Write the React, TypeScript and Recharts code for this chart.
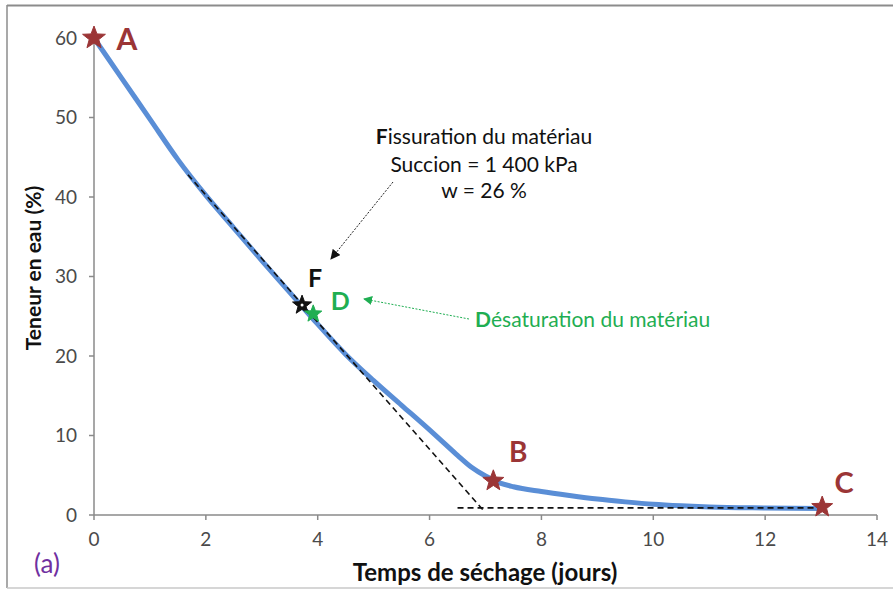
import React from "react";
import { ComposedChart, Line, Scatter, XAxis, YAxis } from "recharts";

// ---- data ----
const dryingDays = [0, 0.5, 1, 1.5, 2, 2.5, 3, 3.5, 4, 4.5, 5, 5.5, 6, 6.25, 6.5, 6.75, 7, 7.25, 7.5, 8, 8.5, 9, 9.5, 10, 10.5, 11, 12, 13];
const waterContent = [60, 54.9, 49.8, 44.7, 40.2, 36.1, 32.0, 28.0, 24.0, 20.2, 16.9, 13.8, 10.7, 9.1, 7.5, 6.0, 4.9, 4.05, 3.55, 2.95, 2.45, 2.0, 1.65, 1.35, 1.15, 1.0, 0.88, 0.82];

const tangentDays = [1.68, 6.96];
const tangentWater = [42.8, 0.6];
const plateauDays = [6.5, 13];
const plateauWater = [0.9, 0.9];

const markerNames = ["A", "B", "C", "F", "D"];
const markerDays = [0, 7.14, 13.02, 3.72, 3.92];
const markerWater = [60, 4.3, 1.0, 26.4, 25.3];

const xTicks = [0, 2, 4, 6, 8, 10, 12, 14];
const yTicks = [0, 10, 20, 30, 40, 50, 60];

// ---- build series ----
const curve = dryingDays.map((x, i) => ({ x, y: waterContent[i] }));
const tangent = tangentDays.map((x, i) => ({ x, y: tangentWater[i] }));
const plateau = plateauDays.map((x, i) => ({ x, y: plateauWater[i] }));
const markers = markerNames.map((name, i) => ({ name, x: markerDays[i], y: markerWater[i] }));

const RED = "#9b3536";
const GREEN = "#1fae52";
const markerStyle: Record<string, any> = {
  A: { color: RED, r: 12, labelColor: RED, dx: 33, dy: 0, fs: 30 },
  B: { color: RED, r: 11, labelColor: RED, dx: 25, dy: -30, fs: 28 },
  C: { color: RED, r: 11, labelColor: RED, dx: 22, dy: -26, fs: 29 },
  F: { color: "#111", r: 10, labelColor: "#111", dx: 13, dy: -28, fs: 25, dot: true },
  D: { color: GREEN, r: 9, labelColor: GREEN, dx: 27, dy: -14, fs: 25 },
};

const FONT = "Lato, 'Open Sans', sans-serif";

function starPoints(cx: number, cy: number, R: number) {
  const r = R * 0.42;
  const pts: string[] = [];
  for (let i = 0; i < 10; i++) {
    const ang = -Math.PI / 2 + (i * Math.PI) / 5;
    const rad = i % 2 === 0 ? R : r;
    pts.push(`${cx + rad * Math.cos(ang)},${cy + rad * Math.sin(ang)}`);
  }
  return pts.join(" ");
}

const StarMark = (props: any) => {
  const { cx, cy, payload } = props;
  if (cx == null || cy == null) return null;
  const s = markerStyle[payload.name];
  return (
    <g>
      <polygon points={starPoints(cx, cy, s.r)} fill={s.color} stroke={s.color} strokeWidth={1} strokeLinejoin="round" />
      {s.dot && <circle cx={cx} cy={cy} r={1.5} fill="#fff" />}
      <text
        x={cx + s.dx}
        y={cy + s.dy}
        textAnchor="middle"
        dominantBaseline="central"
        fontFamily={FONT}
        fontWeight="bold"
        fontSize={s.fs}
        fill={s.labelColor}
      >
        {payload.name}
      </text>
    </g>
  );
};

export default function App() {
  return (
    <div style={{ position: "absolute", left: 0, top: 0, width: 893, height: 590, background: "#fff" }}>
      <ComposedChart
        width={893}
        height={590}
        margin={{ top: 38, right: 16, bottom: 45, left: 0 }}
        style={{ fontFamily: FONT }}
      >
        <XAxis
          type="number"
          dataKey="x"
          domain={[0, 14]}
          ticks={xTicks}
          height={30}
          tickSize={5}
          tickMargin={13}
          stroke="#8a8a8a"
          strokeWidth={1.5}
          tick={{ fill: "#4a4a4a", fontSize: 19, fontFamily: FONT }}
        />
        <YAxis
          type="number"
          dataKey="y"
          domain={[0, 60]}
          ticks={yTicks}
          width={94}
          tickSize={5}
          tickMargin={12}
          stroke="#8a8a8a"
          strokeWidth={1.5}
          tick={{ fill: "#4a4a4a", fontSize: 19, fontFamily: FONT }}
        />
        <Line
          data={curve}
          dataKey="y"
          type="monotone"
          stroke="#5a8ed6"
          strokeWidth={5}
          dot={false}
          activeDot={false}
          isAnimationActive={false}
        />
        <Line
          data={tangent}
          dataKey="y"
          type="linear"
          stroke="#111"
          strokeWidth={1.6}
          strokeDasharray="6 4"
          dot={false}
          activeDot={false}
          isAnimationActive={false}
        />
        <Line
          data={plateau}
          dataKey="y"
          type="linear"
          stroke="#111"
          strokeWidth={1.6}
          strokeDasharray="6 4"
          dot={false}
          activeDot={false}
          isAnimationActive={false}
        />
        <Scatter data={markers} dataKey="y" shape={StarMark} isAnimationActive={false} />
      </ComposedChart>
      <svg
        width={893}
        height={590}
        style={{ position: "absolute", left: 0, top: 0, pointerEvents: "none" }}
      >
        <defs>
          <marker id="arrBlack" viewBox="0 0 10 10" refX="9" refY="5" markerWidth="10" markerHeight="10" orient="auto" markerUnits="userSpaceOnUse">
            <path d="M0,0 L10,5 L0,10 z" fill="#111" />
          </marker>
          <marker id="arrGreen" viewBox="0 0 10 10" refX="9" refY="5" markerWidth="9" markerHeight="9" orient="auto" markerUnits="userSpaceOnUse">
            <path d="M0,0 L10,5 L0,10 z" fill={GREEN} />
          </marker>
        </defs>
        <line x1={7} y1={5.5} x2={893} y2={5.5} stroke="#8c8c8c" strokeWidth={2} />
        <line x1={7} y1={5} x2={7} y2={588} stroke="#8c8c8c" strokeWidth={1.5} />
        <line x1={7} y1={588} x2={893} y2={588} stroke="#c8c8c8" strokeWidth={1.5} />

        <text x={32} y={268} transform="rotate(-90 32 268)" textAnchor="middle" dominantBaseline="central" fontFamily={FONT} fontWeight="bold" fontSize={21} fill="#111">
          Teneur en eau (%)
        </text>
        <text x={485} y={571} textAnchor="middle" dominantBaseline="central" fontFamily={FONT} fontWeight="bold" fontSize={24} fill="#111">
          Temps de séchage (jours)
        </text>
        <text x={47} y={563} textAnchor="middle" dominantBaseline="central" fontFamily={FONT} fontSize={26} fill="#7030a0">
          (a)
        </text>

        <text x={484} y={135} textAnchor="middle" dominantBaseline="central" fontFamily={FONT} fontSize={21} fill="#111">
          <tspan fontWeight="bold">F</tspan>issuration du matériau
        </text>
        <text x={484} y={163} textAnchor="middle" dominantBaseline="central" fontFamily={FONT} fontSize={21} fill="#111">
          Succion = 1 400 kPa
        </text>
        <text x={484} y={189} textAnchor="middle" dominantBaseline="central" fontFamily={FONT} fontSize={21} fill="#111">
          w = 26 %
        </text>
        <line x1={393} y1={182} x2={331} y2={259} stroke="#222" strokeWidth={1} strokeDasharray="2 1.5" markerEnd="url(#arrBlack)" />

        <text x={475} y={318} textAnchor="start" dominantBaseline="central" fontFamily={FONT} fontSize={21} fill={GREEN}>
          <tspan fontWeight="bold">D</tspan>ésaturation du matériau
        </text>
        <line x1={469} y1={319} x2={364} y2={299} stroke={GREEN} strokeWidth={1} strokeDasharray="2 1.5" markerEnd="url(#arrGreen)" />
      </svg>
    </div>
  );
}
